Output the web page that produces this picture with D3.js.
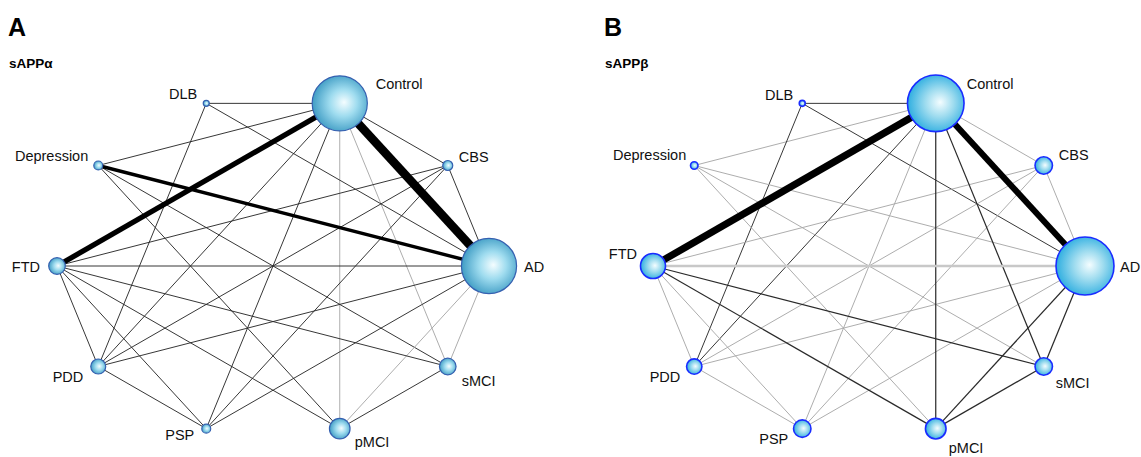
<!DOCTYPE html>
<html lang="en">
  <head>
    <meta charset="UTF-8" />
    <title>Network plots sAPP</title>
    <script src="https://d3js.org/d3.v7.min.js"></script>
    <style>
      body {
        margin: 0;
        background-color: #ffffff;
        font-family: "Liberation Sans", Arial, sans-serif;
      }
    </style>
  </head>
  <body>
    <div id="my_dataviz"></div>
    <script>
      // treatments, in the order they sit round the circle (clockwise from Control)
      var treatments = ["Control", "CBS", "AD", "sMCI", "pMCI", "PSP", "PDD", "FTD", "Depression", "DLB"];

      // node size (participants, read from circle area)
      var sizeA = [760, 25, 760, 69, 106, 20, 56, 69, 20, 9];
      var sizeB = [800, 76, 840, 76, 106, 76, 59, 156, 14, 9];

      // edges: [from, to, number of studies, shade]
      var edgesA = [
        ["Control", "AD", 9.2, "dark"],
        ["Control", "FTD", 5.6, "dark"],
        ["Depression", "AD", 3.6, "dark"],
        ["Control", "DLB", 1, "dark"],
        ["Control", "Depression", 1, "dark"],
        ["Control", "CBS", 1, "dark"],
        ["Control", "PDD", 1, "dark"],
        ["Control", "PSP", 1, "dark"],
        ["Control", "pMCI", 1, "light"],
        ["Control", "sMCI", 1, "light"],
        ["DLB", "PDD", 1, "dark"],
        ["DLB", "AD", 1, "dark"],
        ["Depression", "sMCI", 1, "dark"],
        ["Depression", "pMCI", 1, "dark"],
        ["CBS", "AD", 1, "dark"],
        ["CBS", "FTD", 1, "dark"],
        ["CBS", "PDD", 1, "dark"],
        ["CBS", "PSP", 1, "dark"],
        ["AD", "FTD", 1, "dark"],
        ["AD", "PDD", 1, "dark"],
        ["AD", "PSP", 1, "dark"],
        ["AD", "pMCI", 1, "light"],
        ["AD", "sMCI", 1, "light"],
        ["FTD", "PDD", 1, "dark"],
        ["FTD", "PSP", 1, "dark"],
        ["FTD", "pMCI", 1, "dark"],
        ["FTD", "sMCI", 1, "dark"],
        ["PDD", "PSP", 1, "dark"],
        ["pMCI", "sMCI", 1, "dark"]
      ];
      var edgesB = [
        ["Control", "FTD", 7.6, "dark"],
        ["Control", "AD", 6.4, "dark"],
        ["Control", "DLB", 1, "dark"],
        ["Control", "Depression", 1, "light"],
        ["Control", "CBS", 1, "light"],
        ["Control", "PDD", 1, "dark"],
        ["Control", "PSP", 1, "light"],
        ["Control", "pMCI", 1.3, "dark"],
        ["Control", "sMCI", 1.3, "dark"],
        ["DLB", "PDD", 1, "dark"],
        ["DLB", "AD", 1, "dark"],
        ["Depression", "AD", 1, "light"],
        ["Depression", "sMCI", 1, "light"],
        ["Depression", "pMCI", 1, "light"],
        ["CBS", "AD", 1, "light"],
        ["CBS", "FTD", 1, "light"],
        ["CBS", "PDD", 1, "light"],
        ["CBS", "PSP", 1, "light"],
        ["AD", "FTD", 2.4, "light"],
        ["AD", "PDD", 1, "light"],
        ["AD", "PSP", 1, "light"],
        ["AD", "pMCI", 1.3, "dark"],
        ["AD", "sMCI", 1.3, "dark"],
        ["FTD", "PDD", 1, "light"],
        ["FTD", "PSP", 1, "light"],
        ["FTD", "pMCI", 1.3, "dark"],
        ["FTD", "sMCI", 1.3, "dark"],
        ["PDD", "PSP", 1, "light"],
        ["pMCI", "sMCI", 1.3, "dark"]
      ];

      // label placement relative to node centre: [dx, dy, anchor]
      var labelPosA = {
        Control: [36, -14, "start"], CBS: [11, -3, "start"], AD: [35, 6, "start"],
        sMCI: [14, 19, "start"], pMCI: [15, 18, "start"], PSP: [-12, 11, "end"],
        PDD: [-15, 15, "end"], FTD: [-17, 6, "end"], Depression: [-10, -4, "end"],
        DLB: [-9, -4, "end"]
      };
      var labelPosB = {
        Control: [31, -14, "start"], CBS: [15, -5, "start"], AD: [35, 6, "start"],
        sMCI: [12, 21, "start"], pMCI: [13, 24, "start"], PSP: [-14, 15, "end"],
        PDD: [-14, 15, "end"], FTD: [-16, -7, "end"], Depression: [-8, -5, "end"],
        DLB: [-9, -3, "end"]
      };

      var W = 1141, H = 457;
      var svg = d3.select("#my_dataviz").append("svg")
        .attr("width", W).attr("height", H);

      var defs = svg.append("defs");
      function gradient(id, edge) {
        var g = defs.append("radialGradient").attr("id", id)
          .attr("cx", "55%").attr("cy", "50%").attr("r", "55%")
          .attr("fx", "58%").attr("fy", "48%");
        g.append("stop").attr("offset", "0%").attr("stop-color", "#f4fdff");
        g.append("stop").attr("offset", "45%").attr("stop-color", "#9fdcef");
        g.append("stop").attr("offset", "100%").attr("stop-color", edge);
      }
      gradient("gradA", "#3f9cc4");
      gradient("gradB", "#2eaee0");

      var rScale = d3.scaleSqrt().domain([0, 800]).range([0, 28.3]);
      var wScale = d3.scaleLinear().domain([0, 10]).range([0, 9.4]);

      function drawPanel(opt) {
        var x = d3.scaleLinear().domain([-1, 1]).range([opt.cx - 216, opt.cx + 216]);
        var y = d3.scaleLinear().domain([-1, 1]).range([266 + 171, 266 - 171]);
        var pos = {};
        treatments.forEach(function (t, i) {
          var a = (72 - 36 * i) * Math.PI / 180;
          pos[t] = { x: x(Math.cos(a)), y: y(Math.sin(a)), r: rScale(opt.sizes[i]) };
        });

        var g = svg.append("g");

        g.append("text").attr("x", opt.cx - 265).attr("y", 36)
          .style("font-size", "25px").style("font-weight", 700).text(opt.letter);
        g.append("text").attr("x", opt.cx - 264).attr("y", 68)
          .style("font-size", "13.5px").style("font-weight", 700).text(opt.title);

        // thinnest first so heavy edges sit on top
        var edges = opt.edges.slice().sort(function (a, b) { return a[2] - b[2]; });
        g.selectAll("line.edge").data(edges).enter().append("line")
          .attr("class", "edge")
          .attr("x1", function (d) { return pos[d[0]].x; })
          .attr("y1", function (d) { return pos[d[0]].y; })
          .attr("x2", function (d) { return pos[d[1]].x; })
          .attr("y2", function (d) { return pos[d[1]].y; })
          .attr("stroke", function (d) {
            if (d[2] > 3) return "#000";
            if (d[3] == "light") return d[2] > 2 ? "#c8c8c8" : opt.light;
            return opt.dark;
          })
          .attr("stroke-width", function (d) { return wScale(d[2]); });

        g.selectAll("circle.node").data(treatments).enter().append("circle")
          .attr("class", "node")
          .attr("cx", function (d) { return pos[d].x; })
          .attr("cy", function (d) { return pos[d].y; })
          .attr("r", function (d) { return pos[d].r; })
          .attr("fill", "url(#" + opt.grad + ")")
          .attr("stroke", opt.stroke)
          .attr("stroke-width", opt.strokeW);

        g.selectAll("text.lab").data(treatments).enter().append("text")
          .attr("class", "lab")
          .attr("x", function (d) { return pos[d].x + opt.labels[d][0]; })
          .attr("y", function (d) { return pos[d].y + opt.labels[d][1]; })
          .attr("text-anchor", function (d) { return opt.labels[d][2]; })
          .style("font-size", "14.5px")
          .attr("fill", "#111")
          .text(function (d) { return d; });
      }

      drawPanel({ cx: 273, letter: "A", title: "sAPP\u03b1", sizes: sizeA, edges: edgesA,
        labels: labelPosA, grad: "gradA", stroke: "#3560b0", strokeW: 1.2,
        dark: "#2a2a2a", light: "#a8a8a8" });
      drawPanel({ cx: 869, letter: "B", title: "sAPP\u03b2", sizes: sizeB, edges: edgesB,
        labels: labelPosB, grad: "gradB", stroke: "#1a2cff", strokeW: 1.6,
        dark: "#2a2a2a", light: "#a8a8a8" });
    </script>
  </body>
</html>
